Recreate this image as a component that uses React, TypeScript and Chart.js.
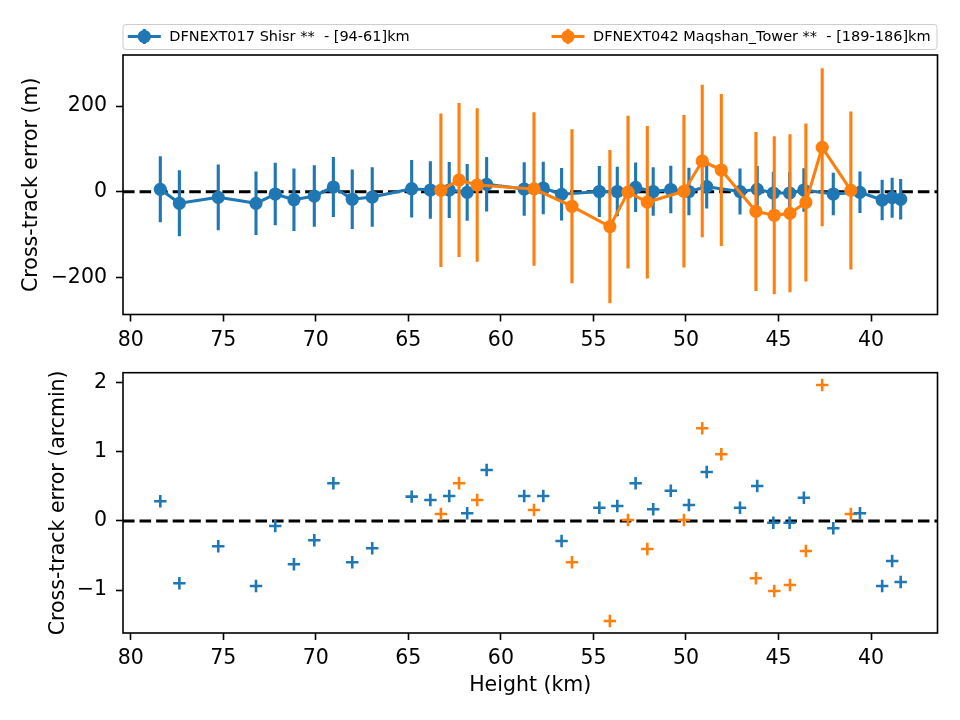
import React, { useEffect, useRef } from "react";
import { Chart, registerables } from "chart.js";

Chart.register(...registerables);
Chart.defaults.font.family = "'DejaVu Sans', sans-serif";

const BLUE = "#1f77b4";
const ORANGE = "#ff7f0e";

// ---- Station 1: DFNEXT017 Shisr ----
const blueHeights = [
  78.40, 77.37, 75.27, 73.23, 72.19, 71.18, 70.08, 69.05, 68.03, 66.95,
  64.82, 63.81, 62.79, 61.82, 60.77, 58.74, 57.71, 56.72, 54.68, 53.71,
  52.72, 51.77, 50.82, 49.84, 48.88, 47.08, 46.15, 45.28, 44.40, 43.63,
  42.04, 40.60, 39.40, 38.86, 38.40,
];
const blueErrM = [
  5.6, -27.1, -13.1, -27.1, -5.4, -18.7, -10.0, 11.0, -17.7, -12.4,
  7.0, 4.0, 4.0, -1.5, 17.3, 6.3, 8.6, -6.1, 0.5, 0.5,
  10.3, 0.5, 5.1, 0.5, 11.7, 0.5, 5.6, -3.0, -3.0, 4.0,
  -5.4, -1.4, -19.4, -14.0, -17.7,
];
const blueErrBars = [
  77.1, 77.1, 76.6, 74.0, 72.9, 73.1, 71.7, 70.1, 69.6, 69.4,
  67.3, 67.3, 65.4, 66.1, 63.7, 62.3, 61.2, 61.4, 59.5, 57.7,
  57.9, 56.7, 55.6, 55.6, 50.7, 53.7, 54.4, 49.7, 48.6, 50.7,
  49.5, 48.6, 47.4, 46.7, 47.4,
];
const blueArcmin = [
  0.285, -0.902, -0.366, -0.941, -0.072, -0.627, -0.279, 0.546, -0.598, -0.395,
  0.352, 0.304, 0.362, 0.111, 0.738, 0.362, 0.362, -0.289, 0.192, 0.217,
  0.546, 0.169, 0.438, 0.232, 0.709, 0.192, 0.507, -0.025, -0.025, 0.337,
  -0.106, 0.111, -0.941, -0.579, -0.883,
];

// ---- Station 2: DFNEXT042 Maqshan_Tower ----
const orangeHeights = [
  63.24, 62.26, 61.28, 58.21, 56.16, 54.11, 53.13, 52.09, 50.11, 49.12,
  48.09, 46.22, 45.23, 44.38, 43.52, 42.64, 41.09,
];
const orangeErrM = [
  3.5, 27.3, 15.6, 6.5, -34.0, -81.5, -1.0, -24.5, 1.0, 71.7,
  50.7, -46.0, -55.0, -50.5, -25.0, 103.7, 3.0,
];
const orangeErrBars = [
  179.1, 179.8, 179.3, 179.3, 179.8, 179.1, 178.2, 178.2, 177.9, 177.9,
  177.5, 185.6, 184.5, 184.5, 184.5, 184.5, 184.5,
];
const orangeArcmin = [
  0.101, 0.546, 0.304, 0.159, -0.598, -1.447, 0.014, -0.405, 0.014, 1.342,
  0.965, -0.829, -1.013, -0.926, -0.434, 1.968, 0.101,
];

const legendLabels = [
  "DFNEXT017 Shisr **  - [94-61]km",
  "DFNEXT042 Maqshan_Tower **  - [189-186]km",
];

const xTicks = [80, 75, 70, 65, 60, 55, 50, 45, 40];
const topYTicks = [-200, 0, 200];
const bottomYTicks = [-1, 0, 1, 2];
const xLimits = [36.41, 80.416];
const topYLimits = [-286.7, 319.2];
const bottomYLimits = [-1.621, 2.146];

const TICK_FONT = { family: "'DejaVu Sans', sans-serif", size: 20.5 };
const fmt = (v: number) => (v < 0 ? "\u2212" + Math.abs(v) : String(v));

const framePlugin = {
  id: "frame",
  afterDatasetsDraw(chart: any) {
    const { ctx, chartArea: a } = chart;
    ctx.save();
    ctx.strokeStyle = "#000";
    ctx.lineWidth = 1.6;
    ctx.strokeRect(a.left, a.top, a.right - a.left, a.bottom - a.top);
    ctx.restore();
  },
};

const errorBarPlugin = {
  id: "errorBars",
  beforeDatasetDraw(chart: any, args: any) {
    const ds = chart.data.datasets[args.index];
    if (!ds.errors) return;
    const xs = chart.scales.x;
    const ys = chart.scales.y;
    const { ctx, chartArea: a } = chart;
    ctx.save();
    ctx.beginPath();
    ctx.rect(a.left, a.top, a.right - a.left, a.bottom - a.top);
    ctx.clip();
    ctx.strokeStyle = ds.borderColor;
    ctx.lineWidth = 3.1;
    ds.data.forEach((p: any, i: number) => {
      const e = ds.errors[i];
      const px = xs.getPixelForValue(p.x);
      ctx.beginPath();
      ctx.moveTo(px, ys.getPixelForValue(p.y - e));
      ctx.lineTo(px, ys.getPixelForValue(p.y + e));
      ctx.stroke();
    });
    ctx.restore();
  },
};

const legendPlugin = {
  id: "mplLegend",
  afterDraw(chart: any) {
    const ctx = chart.ctx;
    ctx.save();
    const bx = 123, by = 24.5, bw = 814, bh = 25, r = 3;
    ctx.beginPath();
    ctx.moveTo(bx + r, by);
    ctx.lineTo(bx + bw - r, by);
    ctx.quadraticCurveTo(bx + bw, by, bx + bw, by + r);
    ctx.lineTo(bx + bw, by + bh - r);
    ctx.quadraticCurveTo(bx + bw, by + bh, bx + bw - r, by + bh);
    ctx.lineTo(bx + r, by + bh);
    ctx.quadraticCurveTo(bx, by + bh, bx, by + bh - r);
    ctx.lineTo(bx, by + r);
    ctx.quadraticCurveTo(bx, by, bx + r, by);
    ctx.closePath();
    ctx.fillStyle = "rgba(255,255,255,0.8)";
    ctx.fill();
    ctx.strokeStyle = "#cccccc";
    ctx.lineWidth = 1;
    ctx.stroke();
    const colors = [BLUE, ORANGE];
    const starts = [127.8, 551.5];
    const cy = 36.5;
    legendLabels.forEach((label, i) => {
      const x0 = starts[i];
      const x1 = x0 + 33;
      const xm = (x0 + x1) / 2;
      ctx.strokeStyle = colors[i];
      ctx.fillStyle = colors[i];
      ctx.lineWidth = 3.1;
      ctx.beginPath();
      ctx.moveTo(x0, cy);
      ctx.lineTo(x1, cy);
      ctx.stroke();
      ctx.beginPath();
      ctx.moveTo(xm, cy - 7.5);
      ctx.lineTo(xm, cy + 7.5);
      ctx.stroke();
      ctx.beginPath();
      ctx.arc(xm, cy, 6.6, 0, Math.PI * 2);
      ctx.fill();
      ctx.fillStyle = "#000";
      ctx.font = "14.5px 'DejaVu Sans', sans-serif";
      ctx.textBaseline = "middle";
      ctx.textAlign = "left";
      ctx.fillText(label, x1 + 8.5, cy + 0.5);
    });
    ctx.restore();
  },
};

function xScale(height: number, withTitle: boolean) {
  return {
    type: "linear",
    reverse: true,
    min: xLimits[0],
    max: xLimits[1],
    afterBuildTicks: (s: any) => {
      s.ticks = xTicks.map((v) => ({ value: v }));
    },
    afterFit: (s: any) => {
      s.height = height;
      s.paddingLeft = 0;
      s.paddingRight = 0;
    },
    ticks: {
      font: TICK_FONT,
      color: "#000",
      padding: 6.5,
      maxRotation: 0,
      autoSkip: false,
      callback: (v: any) => fmt(Number(v)),
    },
    grid: {
      drawOnChartArea: false,
      drawTicks: true,
      tickLength: 7,
      tickWidth: 1.6,
      tickColor: "#000",
    },
    border: { display: false },
    title: {
      display: withTitle,
      text: "Height (km)",
      font: TICK_FONT,
      color: "#000",
      padding: { top: 0, bottom: 22.5 },
    },
  };
}

function yScale(limits: number[], ticks: number[], title: string, titlePad: number) {
  return {
    type: "linear",
    min: limits[0],
    max: limits[1],
    afterBuildTicks: (s: any) => {
      s.ticks = ticks.map((v) => ({ value: v }));
    },
    afterFit: (s: any) => {
      s.width = 123;
      s.paddingTop = 0;
      s.paddingBottom = 0;
    },
    ticks: {
      font: TICK_FONT,
      color: "#000",
      padding: 9,
      callback: (v: any) => fmt(Number(v)),
    },
    grid: {
      drawOnChartArea: false,
      drawTicks: true,
      tickLength: 7,
      tickWidth: 1.6,
      tickColor: "#000",
    },
    border: { display: false },
    title: {
      display: true,
      text: title,
      font: TICK_FONT,
      color: "#000",
      padding: { top: titlePad, bottom: 0 },
    },
  };
}

const zeroLine = () => ({
  label: "zero",
  data: [
    { x: xLimits[1], y: 0 },
    { x: xLimits[0], y: 0 },
  ],
  showLine: true,
  borderColor: "#000",
  borderWidth: 3.1,
  borderDash: [11.56, 5],
  pointRadius: 0,
  pointHoverRadius: 0,
});

export default function App() {
  const topRef = useRef<HTMLCanvasElement>(null);
  const botRef = useRef<HTMLCanvasElement>(null);

  useEffect(() => {
    const lineDs = (h: number[], v: number[], e: number[], color: string, label: string) => ({
      label,
      data: h.map((x, i) => ({ x, y: v[i] })),
      errors: e,
      showLine: true,
      borderColor: color,
      backgroundColor: color,
      borderWidth: 3.1,
      borderJoinStyle: "round",
      pointRadius: 6.6,
      pointHoverRadius: 6.6,
      pointBorderWidth: 0,
      pointBackgroundColor: color,
    });

    const top = new Chart(topRef.current as HTMLCanvasElement, {
      type: "scatter",
      data: {
        datasets: [
          lineDs(orangeHeights, orangeErrM, orangeErrBars, ORANGE, legendLabels[1]),
          lineDs(blueHeights, blueErrM, blueErrBars, BLUE, legendLabels[0]),
          zeroLine(),
        ] as any,
      },
      options: {
        animation: false,
        responsive: false,
        devicePixelRatio: 1,
        layout: { padding: { top: 55, right: 22.5, left: 0, bottom: 0 } },
        plugins: { legend: { display: false }, tooltip: { enabled: false } },
        scales: {
          x: xScale(45.5, false),
          y: yScale(topYLimits, topYTicks, "Cross-track error (m)", 19.7),
        } as any,
      },
      plugins: [errorBarPlugin, framePlugin, legendPlugin],
    });

    const crossDs = (h: number[], v: number[], color: string, label: string) => ({
      label,
      data: h.map((x, i) => ({ x, y: v[i] })),
      pointStyle: "cross",
      pointRadius: 6.2,
      pointHoverRadius: 6.2,
      pointBorderWidth: 2.6,
      borderColor: color,
      backgroundColor: color,
      showLine: false,
    });

    const bottom = new Chart(botRef.current as HTMLCanvasElement, {
      type: "scatter",
      data: {
        datasets: [
          crossDs(blueHeights, blueArcmin, BLUE, legendLabels[0]),
          crossDs(orangeHeights, orangeArcmin, ORANGE, legendLabels[1]),
          zeroLine(),
        ] as any,
      },
      options: {
        animation: false,
        responsive: false,
        devicePixelRatio: 1,
        layout: { padding: { top: 12.7, right: 22.5, left: 0, bottom: 0 } },
        plugins: { legend: { display: false }, tooltip: { enabled: false } },
        scales: {
          x: xScale(87, true),
          y: yScale(bottomYLimits, bottomYTicks, "Cross-track error (arcmin)", 46.5),
        } as any,
      },
      plugins: [framePlugin],
    });

    return () => {
      top.destroy();
      bottom.destroy();
    };
  }, []);

  return (
    <div style={{ position: "absolute", left: 0, top: 0, width: 960, height: 720, background: "#fff" }}>
      <canvas ref={topRef} width={960} height={360} style={{ position: "absolute", left: 0, top: 0 }} />
      <canvas ref={botRef} width={960} height={360} style={{ position: "absolute", left: 0, top: 360 }} />
    </div>
  );
}
